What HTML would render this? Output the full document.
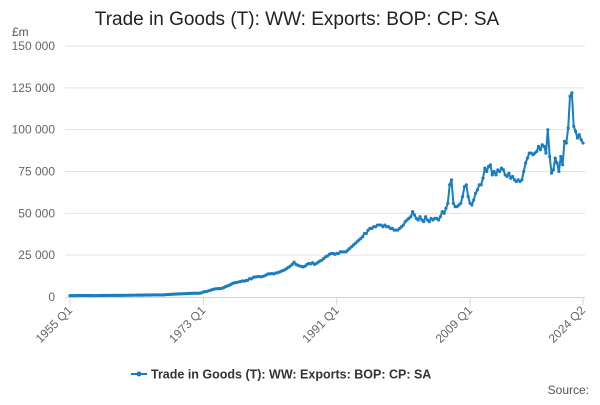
<!DOCTYPE html>
<html><head><meta charset="utf-8"><style>
body{margin:0;background:#fff;font-family:"Liberation Sans",sans-serif}
svg text{font-family:"Liberation Sans",sans-serif}
</style></head><body>
<svg id="chart" width="600" height="400">
<text x="297" y="25" text-anchor="middle" font-size="19" fill="#222">Trade in Goods (T): WW: Exports: BOP: CP: SA</text>
<text x="12" y="36" font-size="12" fill="#555">£m</text>
<g id="grid"></g><g id="xaxis"></g><g id="series"></g>
<g>
<line x1="131" y1="374" x2="147" y2="374" stroke="#1b7dc1" stroke-width="2"/>
<circle cx="139" cy="374" r="2.5" fill="#1b7dc1"/>
<text x="151" y="378.5" font-size="12.5" font-weight="bold" fill="#333">Trade in Goods (T): WW: Exports: BOP: CP: SA</text>
</g>
<text x="589" y="394" text-anchor="end" font-size="12" fill="#555">Source:</text>
</svg>
<script>
const yTicks=[0,25000,50000,75000,100000,125000,150000];
const yTickLabels=["0","25 000","50 000","75 000","100 000","125 000","150 000"];
const xTickIdx=[0,72,144,216,277];
const xTickLabels=["1955 Q1","1973 Q1","1991 Q1","2009 Q1","2024 Q2"];
const values=[
0.80,0.82,0.83,0.85, 0.86,0.88,0.87,0.89, 0.90,0.91,0.90,0.88, 0.86,0.85,0.86,0.87, 0.88,0.89,0.91,0.93,
0.95,0.94,0.96,0.95, 0.97,0.98,0.97,0.99, 0.99,1.00,1.01,1.02, 1.04,1.06,1.08,1.09, 1.10,1.11,1.10,1.13,
1.15,1.18,1.19,1.20, 1.22,1.25,1.24,1.28, 1.26,1.24,1.27,1.25, 1.45,1.50,1.55,1.60, 1.70,1.75,1.80,1.85,
1.88,1.95,1.98,2.02, 2.10,2.15,2.20,2.25, 2.25,2.20,2.30,2.45,
3.0,3.2,3.4,3.7, 4.1,4.5,4.8,4.9, 5.0,5.0,5.2,5.6, 6.2,6.6,7.0,7.6, 8.2,8.5,8.7,9.0, 9.2,9.6,9.5,9.8,
10.0,11.0,10.8,11.8, 12.0,12.1,12.3,12.0, 12.3,12.6,13.2,13.8, 13.8,14.0,13.8,14.3, 14.5,14.9,15.4,15.8,
16.3,17.0,17.8,18.5, 19.5,20.8,19.5,19.0, 18.5,18.3,18.0,18.5, 19.5,20.0,19.8,20.5, 19.5,20.0,20.8,21.5,
22.0,23.0,24.0,24.5, 25.5,26.0,26.0,25.5,
26,26,27,27, 27,27,28,29, 30,31,32,33, 34,35,36,38, 38,40,41,41, 42,42,43,43, 43,42,43,42, 42,41,41,40, 40,40,41,42,
43,45,46,47, 48,51,49,47, 46,48,46,45, 48,46,45,47, 46,47,47,46, 48,51,50,53, 56,67,70,56, 54,54,55,56, 60,66,67,60,
56,55,58,62, 64,67,67,71, 77,75,78,79, 73,75,73,76, 75,77,76,73, 72,74,71,72,
70,69,70,69, 70,75,80,83, 86,86,85,86, 87,90,88,91, 90,86,100,84,
74,76,83,80, 75,84,79,93, 92,101,120,122, 102,99,95,97, 94,92
].map(v=>v*1000);
const X0=70,X1=583,Y0=297,Y1=46;
const xs=i=>X0+(X1-X0)*i/(values.length-1);
const ys=v=>Y0-(Y0-Y1)*v/150000;
const NS="http://www.w3.org/2000/svg";
function mk(t,a,p){const e=document.createElementNS(NS,t);for(const k in a)e.setAttribute(k,a[k]);p.appendChild(e);return e;}
const grid=document.getElementById('grid');
yTicks.forEach((t,i)=>{
 if(i>0){const l=mk('line',{x1:65,x2:585,y1:ys(t),y2:ys(t),stroke:'#e3e3e3','stroke-width':1},grid);
 
 }
 const tx=mk('text',{x:55,y:ys(t)+4,'text-anchor':'end','font-size':12,fill:'#666'},grid);
 tx.textContent=yTickLabels[i];
 
 
});
const xa=document.getElementById('xaxis');
const ax=mk('line',{x1:65,x2:585,y1:Y0+0.5,y2:Y0+0.5,stroke:'#ccd6eb','stroke-width':1},xa);


xTickIdx.forEach((q,i)=>{
 const x=xs(q);
 mk('line',{x1:x,x2:x,y1:Y0,y2:Y0+8,stroke:'#ccd6eb'},xa);
 const t=mk('text',{x:x+3,y:Y0+14,'text-anchor':'end','font-size':12,fill:'#666',transform:`rotate(-45 ${x+3} ${Y0+14})`},xa);
 t.textContent=xTickLabels[i];
 
 
});
const s=document.getElementById('series');
const p=mk('path',{d:values.map((v,i)=>(i?'L':'M')+xs(i).toFixed(1)+' '+ys(v).toFixed(1)).join(''),fill:'none',stroke:'#1b7dc1','stroke-width':2,'stroke-linejoin':'round'},s);


values.forEach((v,i)=>{
 const c=mk('circle',{cx:xs(i),cy:ys(v),r:1.6,fill:'#1b7dc1'},s);
 
 
});
</script>
</body></html>
